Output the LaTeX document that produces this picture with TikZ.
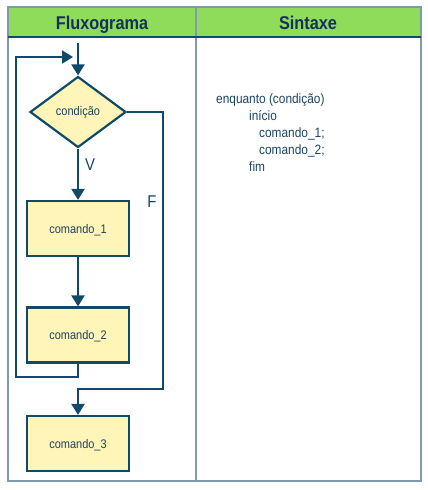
\documentclass[tikz,border=0pt]{standalone}
\usepackage{fontspec}
\setmainfont{Liberation Sans}[FakeStretch=0.88]
\usetikzlibrary{shapes.geometric,arrows.meta}

\definecolor{cabecalho}{HTML}{8EDC5A}
\definecolor{moldura}{HTML}{7D9BAA}
\definecolor{linha}{HTML}{0F4A68}
\definecolor{caixa}{HTML}{FFF5B8}
\definecolor{texto}{HTML}{1C4464}
\definecolor{titulo}{HTML}{15305A}

\tikzset{
    fluxo/.style={draw=linha, line width=2.2pt, -{Triangle[width=13pt,length=11pt]}},
    comando/.style={draw=linha, line width=2.2pt, fill=caixa, minimum width=102pt,
        minimum height=55pt, text depth=0pt, text=texto, font=\fontsize{12.5}{14}\selectfont},
    decisao/.style={diamond, draw=linha, line width=2.2pt, fill=caixa, minimum width=96pt,
        minimum height=71pt, inner sep=0pt, text=texto, font=\fontsize{12.5}{14}\selectfont},
    rotulo/.style={text=texto, font=\fontsize{17}{19}\selectfont},
    sintaxe/.style={anchor=base west, inner sep=0pt, text=texto, font=\fontsize{13.5}{16}\selectfont},
    titulotab/.style={anchor=base, inner sep=0pt, text=titulo, font=\fontsize{18.5}{20}\selectfont\bfseries}
}

\begin{document}
\begin{tikzpicture}[x=1pt,y=-1pt]
    \useasboundingbox[fill=white] (0,0) rectangle (428,490);

    % tabela
    \fill[cabecalho] (8,7) rectangle (421,37);
    \draw[moldura, line width=1.5pt] (8,7) rectangle (421,481);
    \draw[moldura, line width=1.5pt] (196,7) -- (196,481);
    \draw[linha, line width=1.5pt] (8,37) -- (421,37);
    \node[titulotab] (tfluxo) at (102,29) {Fluxograma};
    \node[titulotab] (tsintaxe) at (308,29) {Sintaxe};

    % fluxograma
    \coordinate (entrada) at (78,43);
    \coordinate (volta) at (73,57);
    \node[decisao] (cond) at (78,112) {condição};
    \node[comando] (cmd1) at (78,228.5) {comando\_1};
    \node[comando] (cmd2) at (78,335) {comando\_2};
    \node[comando] (cmd3) at (78,443.5) {comando\_3};
    \node[rotulo] (verdade) at (90,165) {V};
    \node[rotulo] (falso) at (152,202) {F};

    \draw[fluxo] (entrada) -- (cond.north);
    \draw[fluxo] (cond.south) -- (cmd1.north);
    \draw[fluxo] (cmd1.south) -- (cmd2.north);
    \draw[fluxo] (cmd2.south) |- (16,377) |- (volta);
    \draw[fluxo] (cond.east) -| (163,389) -| (cmd3.north);

    % sintaxe
    \node[sintaxe] (enq) at (216,103) {enquanto (condição)};
    \node[sintaxe] (ini) at (249,120) {início};
    \node[sintaxe] (c1) at (259,137) {comando\_1;};
    \node[sintaxe] (c2) at (259,154) {comando\_2;};
    \node[sintaxe] (fim) at (249,171) {fim};
\end{tikzpicture}
\end{document}
